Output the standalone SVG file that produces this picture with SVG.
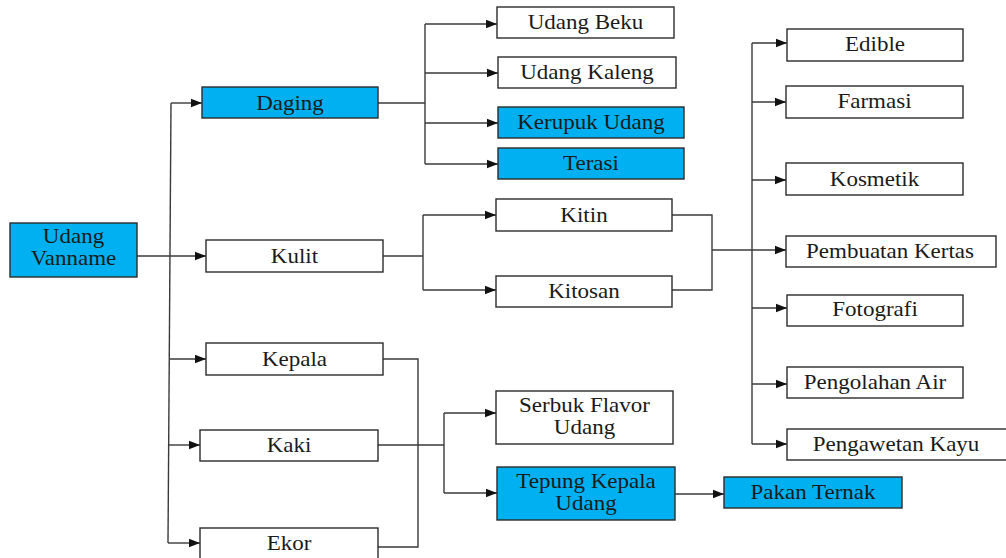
<svg xmlns="http://www.w3.org/2000/svg" width="1006" height="558" viewBox="0 0 1006 558">
  <style>
    .box { fill: #ffffff; stroke: #2b2b2b; stroke-width: 1.4; }
    .hi { fill: #00b0f0; }
    .t { font-family: "Liberation Serif", "Times New Roman", serif; font-size: 20px; fill: #1a1a1a; text-anchor: middle; }
    .c { fill: none; stroke: #3a3a3a; stroke-width: 1.4; }
    .a { marker-end: url(#arr); }
  </style>
  <defs>
    <marker id="arr" markerUnits="userSpaceOnUse" markerWidth="12" markerHeight="10" refX="11" refY="5" orient="auto">
      <path d="M0,0.8 L11,5 L0,9.2 Z" fill="#111111"/>
    </marker>
  </defs>

  <!-- connectors -->
  <g id="connectors">
    <!-- root to first-level parts -->
    <path class="c" d="M171,103 L168,543"/>
    <path class="c a" d="M171,103 L202,103"/>
    <path class="c a" d="M137,256 L206,256"/>
    <path class="c a" d="M169.5,359 L206,359"/>
    <path class="c a" d="M168.5,445 L200,445"/>
    <path class="c a" d="M168,543 L200,543"/>

    <!-- Daging products -->
    <path class="c" d="M378,103 L425,103"/>
    <path class="c" d="M425,24 L425,164"/>
    <path class="c a" d="M425,24 L497,24"/>
    <path class="c a" d="M425,73 L498,73"/>
    <path class="c a" d="M425,123 L498,123"/>
    <path class="c a" d="M425,164 L498,164"/>

    <!-- Kulit to Kitin / Kitosan -->
    <path class="c" d="M383,256 L423,256"/>
    <path class="c" d="M423,215 L423,290"/>
    <path class="c a" d="M423,215 L496,215"/>
    <path class="c a" d="M423,290 L496,290"/>

    <!-- Kitin / Kitosan to uses -->
    <path class="c" d="M672,215 L712,215 L712,290 L672,290"/>
    <path class="c" d="M712,250 L752,250"/>
    <path class="c" d="M752,43 L752,444"/>
    <path class="c a" d="M752,43 L787,43"/>
    <path class="c a" d="M752,102 L786,102"/>
    <path class="c a" d="M752,180 L786,180"/>
    <path class="c a" d="M752,250 L786,250"/>
    <path class="c a" d="M752,308 L787,308"/>
    <path class="c a" d="M752,384 L787,384"/>
    <path class="c a" d="M752,444 L787,444"/>

    <!-- Kepala / Kaki / Ekor products -->
    <path class="c" d="M383,359 L418,359 L418,547 L378,547"/>
    <path class="c" d="M378,445 L444,445"/>
    <path class="c" d="M444,413 L444,493"/>
    <path class="c a" d="M444,413 L496,413"/>
    <path class="c a" d="M444,493 L497,493"/>
    <path class="c a" d="M675,494 L724,494"/>
  </g>

  <!-- nodes -->
  <g id="udang-vanname">
    <rect class="box hi" x="10" y="223" width="127" height="54"/>
    <text class="t" transform="translate(73.5 243) scale(1.15 1)">Udang</text>
    <text class="t" transform="translate(73.5 265) scale(1.15 1)">Vanname</text>
  </g>
  <g id="daging">
    <rect class="box hi" x="202" y="87" width="176" height="31"/>
    <text class="t" transform="translate(290 109.5) scale(1.15 1)">Daging</text>
  </g>
  <g id="kulit">
    <rect class="box" x="206" y="240" width="177" height="32"/>
    <text class="t" transform="translate(294.5 262.5) scale(1.15 1)">Kulit</text>
  </g>
  <g id="kepala">
    <rect class="box" x="206" y="343" width="177" height="32"/>
    <text class="t" transform="translate(294.5 365.5) scale(1.15 1)">Kepala</text>
  </g>
  <g id="kaki">
    <rect class="box" x="200" y="430" width="178" height="31"/>
    <text class="t" transform="translate(289 452) scale(1.15 1)">Kaki</text>
  </g>
  <g id="ekor">
    <rect class="box" x="200" y="528" width="178" height="34"/>
    <text class="t" transform="translate(289 550) scale(1.15 1)">Ekor</text>
  </g>

  <g id="udang-beku">
    <rect class="box" x="497" y="7" width="177" height="31"/>
    <text class="t" transform="translate(585.5 29) scale(1.15 1)">Udang Beku</text>
  </g>
  <g id="udang-kaleng">
    <rect class="box" x="498" y="57" width="178" height="31"/>
    <text class="t" transform="translate(587 79) scale(1.15 1)">Udang Kaleng</text>
  </g>
  <g id="kerupuk-udang">
    <rect class="box hi" x="498" y="107" width="186" height="31"/>
    <text class="t" transform="translate(591 129) scale(1.15 1)">Kerupuk Udang</text>
  </g>
  <g id="terasi">
    <rect class="box hi" x="498" y="148" width="186" height="31"/>
    <text class="t" transform="translate(591 170) scale(1.15 1)">Terasi</text>
  </g>

  <g id="kitin">
    <rect class="box" x="496" y="199" width="176" height="32"/>
    <text class="t" transform="translate(584 221.5) scale(1.15 1)">Kitin</text>
  </g>
  <g id="kitosan">
    <rect class="box" x="496" y="276" width="176" height="31"/>
    <text class="t" transform="translate(584 298) scale(1.15 1)">Kitosan</text>
  </g>

  <g id="edible">
    <rect class="box" x="787" y="29" width="176" height="32"/>
    <text class="t" transform="translate(875 51) scale(1.15 1)">Edible</text>
  </g>
  <g id="farmasi">
    <rect class="box" x="786" y="86" width="177" height="32"/>
    <text class="t" transform="translate(874.5 108) scale(1.15 1)">Farmasi</text>
  </g>
  <g id="kosmetik">
    <rect class="box" x="786" y="163" width="177" height="32"/>
    <text class="t" transform="translate(874.5 186) scale(1.15 1)">Kosmetik</text>
  </g>
  <g id="pembuatan-kertas">
    <rect class="box" x="786" y="236" width="210" height="31"/>
    <text class="t" transform="translate(890 257.5) scale(1.15 1)">Pembuatan Kertas</text>
  </g>
  <g id="fotografi">
    <rect class="box" x="787" y="295" width="176" height="31"/>
    <text class="t" transform="translate(875 316) scale(1.15 1)">Fotografi</text>
  </g>
  <g id="pengolahan-air">
    <rect class="box" x="787" y="367" width="176" height="31"/>
    <text class="t" transform="translate(875 389) scale(1.15 1)">Pengolahan Air</text>
  </g>
  <g id="pengawetan-kayu">
    <rect class="box" x="787" y="429" width="222" height="31"/>
    <text class="t" transform="translate(896 450.5) scale(1.15 1)">Pengawetan Kayu</text>
  </g>

  <g id="serbuk-flavor">
    <rect class="box" x="496" y="391" width="177" height="53"/>
    <text class="t" transform="translate(584.5 412) scale(1.15 1)">Serbuk Flavor</text>
    <text class="t" transform="translate(584.5 434) scale(1.15 1)">Udang</text>
  </g>
  <g id="tepung-kepala">
    <rect class="box hi" x="497" y="467" width="178" height="53"/>
    <text class="t" transform="translate(586 488) scale(1.15 1)">Tepung Kepala</text>
    <text class="t" transform="translate(586 509.5) scale(1.15 1)">Udang</text>
  </g>
  <g id="pakan-ternak">
    <rect class="box hi" x="724" y="477" width="178" height="31"/>
    <text class="t" transform="translate(813 498.5) scale(1.15 1)">Pakan Ternak</text>
  </g>
</svg>
